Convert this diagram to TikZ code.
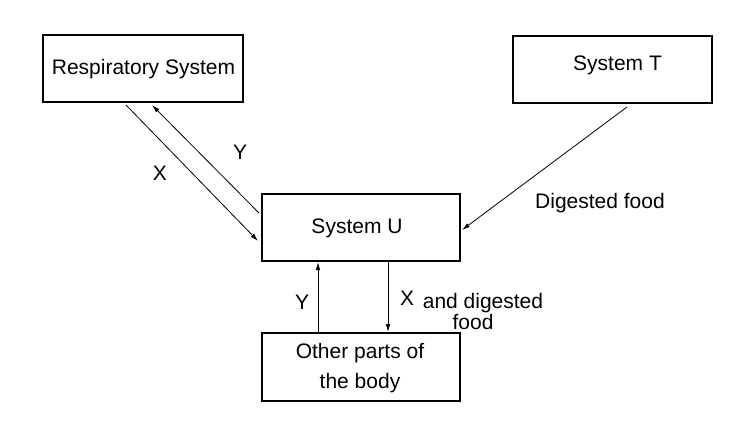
\documentclass[tikz,border=0pt]{standalone}
\usepackage{fontspec}
\setmainfont{Liberation Sans}
\usetikzlibrary{arrows.meta,calc}
\begin{document}
\begin{tikzpicture}[x=1pt,y=1pt,
  box/.style={draw,line width=2pt,inner sep=0pt,align=center},
  conn/.style={line width=0.8pt,-{Latex[length=8pt,width=4.5pt]}},
  lbl/.style={inner sep=0pt,font=\fontsize{21}{30}\selectfont},
  every node/.append style={font=\fontsize{21}{30}\selectfont}]
\useasboundingbox (0,0) rectangle (735,-431);
\node[box,minimum width=200pt,minimum height=67pt] (resp) at (143,-68.5) {};
\node[lbl] (resptxt) at (143.5,-69) {Respiratory System};
\node[box,minimum width=199pt,minimum height=67pt] (sysT) at (612.5,-69.5) {};
\node[lbl] (Ttxt) at (617.5,-65) {System T};
\node[box,minimum width=198pt,minimum height=67pt] (sysU) at (361,-227.5) {};
\node[lbl] (Utxt) at (357,-228) {System U};
\node[box,minimum width=198pt,minimum height=68pt] (other) at (361,-367) {};
\node[lbl,align=center] (othertxt) at (360,-368) {Other parts of\\the body};
% connectors
\coordinate (xs) at ($(resp.south west)+(84,-2)$);
\coordinate (xe) at ($(sysU.west)+(-3,-13.5)$);
\draw[conn] (xs) -- (xe);
\coordinate (ys) at ($(sysU.west)+(-2,14.5)$);
\coordinate (ye) at ($(resp.south west)+(110,-2)$);
\draw[conn] (ys) -- (ye);
\coordinate (ts) at ($(sysT.south west)+(115,-3)$);
\coordinate (te) at ($(sysU.east)+(1,-2.5)$);
\draw[conn] (ts) -- (te);
\draw[conn] (other.north -| 318,0) -- (sysU.south -| 318,0);
\draw[conn] (sysU.south -| 388,0) -- (other.north -| 388,0);
% labels
\node[lbl] (lx) at (160,-173) {X};
\node[lbl] (ly) at (240,-152) {Y};
\node[lbl] (ly2) at (302,-302) {Y};
\node[lbl] (df) at (600,-203) {Digested food};
\node[lbl] (lx2) at (407,-298) {X};
\node[lbl] (ad) at (483,-303) {and digested};
\node[lbl] (fd) at (473,-322) {food};
\end{tikzpicture}
\end{document}
